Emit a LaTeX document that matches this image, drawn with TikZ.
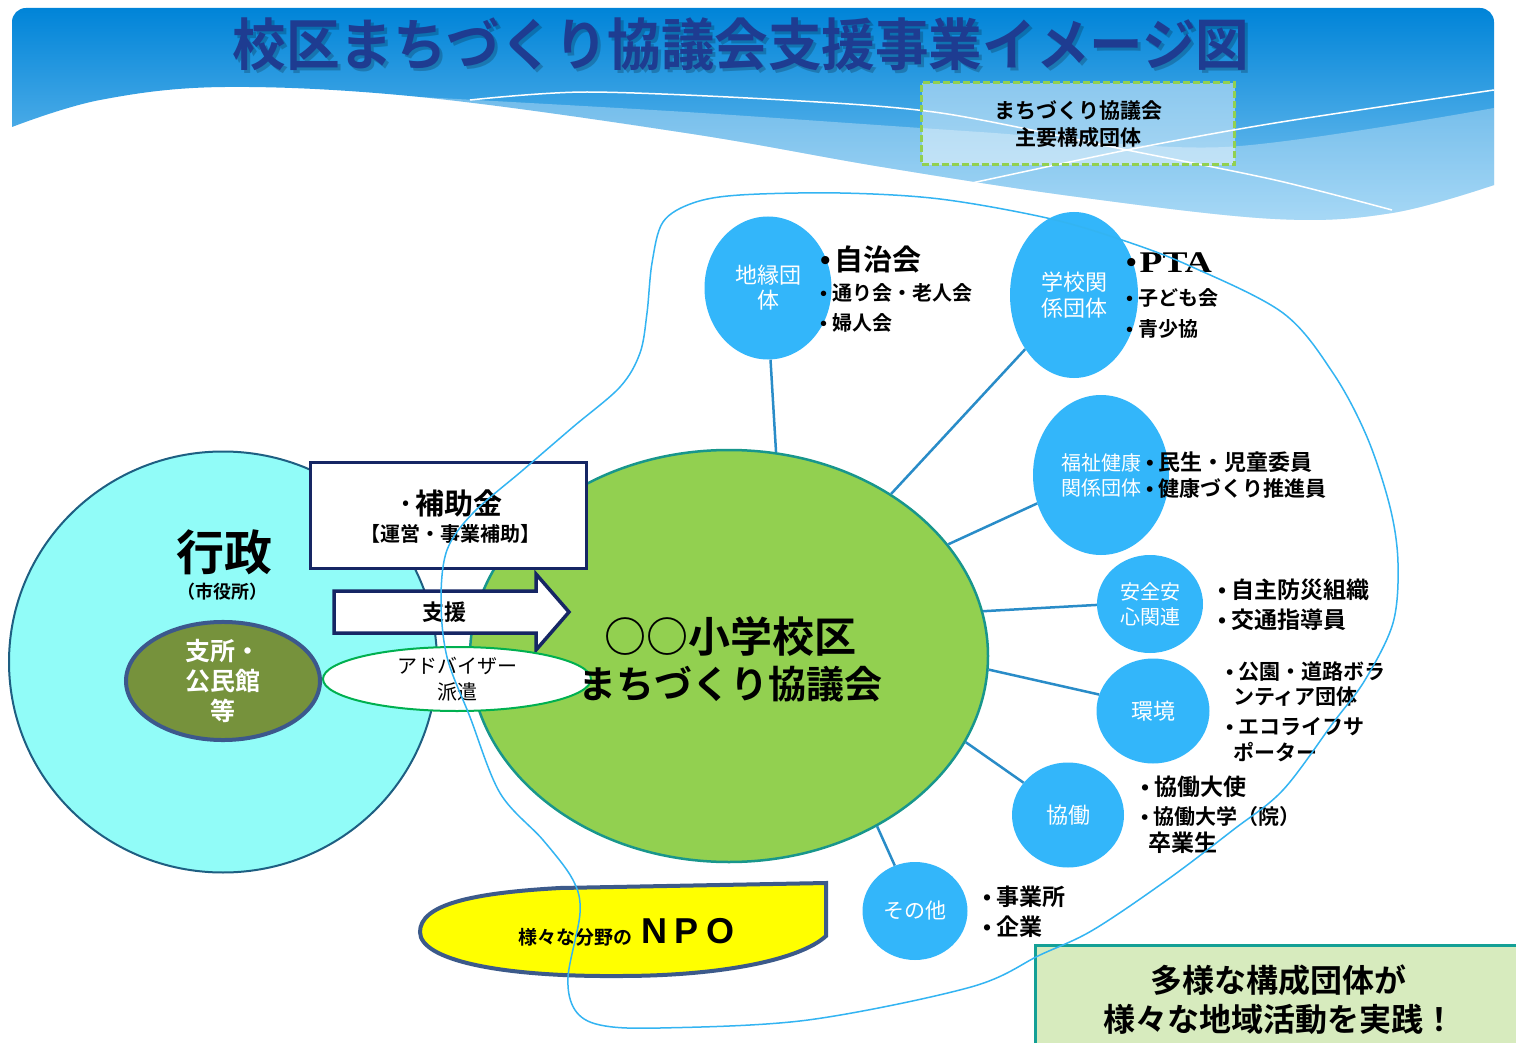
\documentclass[tikz,border=0pt]{standalone}
\usepackage{fontspec}
\usepackage{graphicx}
\setmainfont{Noto Sans CJK JP}[BoldFont={Noto Sans CJK JP Bold}]
\newfontfamily\lat{Liberation Serif}
\newfontfamily\latsans{Liberation Sans}
\usetikzlibrary{shapes.geometric}
\definecolor{circblue}{RGB}{51,182,250}
\definecolor{connblue}{RGB}{41,140,200}
\definecolor{maingreen}{RGB}{146,208,80}
\definecolor{mainbd}{RGB}{24,150,140}
\definecolor{cyanfill}{RGB}{145,252,248}
\definecolor{cyanbd}{RGB}{30,95,130}
\definecolor{olivef}{RGB}{118,146,60}
\definecolor{olivebd}{RGB}{60,88,140}
\definecolor{navyc}{RGB}{22,38,100}
\definecolor{advgreen}{RGB}{0,176,80}
\definecolor{npoyel}{RGB}{255,255,0}
\definecolor{npobd}{RGB}{60,90,138}
\definecolor{boxgreen}{RGB}{215,235,190}
\definecolor{boxteal}{RGB}{20,160,150}
\definecolor{loopc}{RGB}{51,180,242}
\definecolor{dashgreen}{RGB}{146,208,80}
\definecolor{titleblue}{RGB}{30,60,145}
\definecolor{hdrA}{RGB}{0,132,216}
\definecolor{hdrB}{RGB}{130,200,242}
\newcommand\fsz[1]{\fontsize{#1}{#1}\selectfont}
\newcommand\bul{{\lat •}\hspace{5pt}}
\tikzset{
  circ/.style={ellipse, fill=circblue, inner sep=0pt, text=white, align=center},
  conn/.style={draw=connblue, line width=2.5pt},
  item/.style={anchor=west, inner sep=0pt},
  txt/.style={inner sep=0pt},
}
\begin{document}
\begin{tikzpicture}[x=1pt,y=-1pt]
\useasboundingbox (0,0) rectangle (1516,1043);
\fill[white] (0,0) rectangle (1516,1043);
% header
\shade[top color=hdrA, bottom color=hdrB] (12,127) [rounded corners=14]-- (12,8) -- (1494,8) -- (1494,185) [sharp corners]
  -- plot[smooth,tension=0.6] coordinates {(1494,185) (1392,213) (1275,219) (1078,197) (882,167) (686,133) (420,97) (225,87) (100,100) (12,127)} -- cycle;
\fill[white, opacity=0.3] plot[smooth] coordinates {(420,97) (686,112) (980,132) (1225,147) (1494,108)} -- (1494,185)
  -- plot[smooth,tension=0.6] coordinates {(1494,185) (1392,213) (1275,219) (1078,197) (882,167) (686,133) (420,97)} -- cycle;
\draw[white, line width=1.5] plot[smooth] coordinates {(470,100) (587,92) (784,100) (941,113) (1127,150) (1275,180) (1392,210)};
\draw[white, line width=1.5] plot[smooth] coordinates {(935,191) (1127,150) (1275,123) (1494,90)};
% title
\node[txt, font=\bfseries\fsz{52}, text=black, opacity=0.2] (tshadow) at (744,47) {\scalebox{1.03}[1.08]{校区まちづくり協議会支援事業イメージ図}};
\node[txt, font=\bfseries\fsz{52}, text=titleblue] (title) at (741,44) {\scalebox{1.03}[1.08]{校区まちづくり協議会支援事業イメージ図}};
% key box
\node[draw=dashgreen, dash pattern=on 7pt off 3pt, line width=3, fill=white, fill opacity=0.45, text opacity=1,
  minimum width=313, minimum height=82, align=center, font=\bfseries\fontsize{21}{27}\selectfont] (keybox) at (1078,124) {まちづくり協議会\\主要構成団体};
% left big ellipse
\node[ellipse, draw=cyanbd, fill=cyanfill, line width=2, minimum width=428, minimum height=421] (gyosei) at (223,662) {};
\node[txt, font=\bfseries\fsz{48}] (gyoseit) at (224,552) {行政};
\node[txt, font=\bfseries\fsz{18}] (shiyakusho) at (222,592) {（市役所）};
\node[ellipse, draw=olivebd, fill=olivef, line width=4, minimum width=194, minimum height=114, inner sep=0, text=white,
  align=center, font=\bfseries\fontsize{25}{30}\selectfont] (shisho) at (223,681) {支所・\\公民館\\等};
% main ellipse
\node[ellipse, draw=mainbd, fill=maingreen, line width=2.5, minimum width=518, minimum height=412] (main) at (729,656) {};
% subsidy box
\node[draw=navyc, line width=3, fill=white, minimum width=276, minimum height=106] (hojo) at (448,515) {};
\node[txt, font=\bfseries\fsz{29}] (hojot) at (450,503) {·補助金};
\node[txt, font=\bfseries\fsz{20}] (hojos) at (450,534) {【運営・事業補助】};
% support arrow
\draw[navyc, line width=3.5, fill=white, line join=miter] (334,591) -- (536,591) -- (536,574) -- (569,612) -- (536,650) -- (536,633) -- (334,633) -- cycle;
\node[txt, font=\bfseries\fsz{22}] (shien) at (444,612) {支援};
% adviser
\node[ellipse, draw=advgreen, line width=2, fill=white, minimum width=268, minimum height=64, inner sep=0,
  align=center, font=\fontsize{20}{26}\selectfont] (adv) at (457,679) {アドバイザー\\派遣};
% main text
\node[txt, font=\bfseries\fsz{42}] (maint1) at (730,636) {○○小学校区};
\node[txt, font=\bfseries\fsz{38}] (maint2) at (730,684) {まちづくり協議会};
% member circles
\node[circ, minimum width=127, minimum height=143, font=\fontsize{22}{25}\selectfont] (chien) at (768,288) {地縁団\\体};
\node[circ, minimum width=128, minimum height=166, font=\fontsize{22}{26}\selectfont] (gakko) at (1074,295) {学校関\\係団体};
\node[circ, minimum width=136, minimum height=160, font=\fontsize{20}{25}\selectfont] (fukushi) at (1101,475) {福祉健康\\関係団体};
\node[circ, minimum width=106, minimum height=98, font=\fontsize{20}{25}\selectfont] (anzen) at (1150,604) {安全安\\心関連};
\node[circ, minimum width=113, minimum height=105, font=\fsz{22}] (kankyo) at (1153,711) {環境};
\node[circ, minimum width=112, minimum height=105, font=\fsz{22}] (kyodo) at (1068,815) {協働};
\node[circ, minimum width=105, minimum height=98, font=\fsz{21}] (sonota) at (915,911) {その他};
% connectors
\draw[conn] (chien.272) -- (main.77);
\draw[conn] (gakko.228) -- (main.45);
\draw[conn] (fukushi.204) -- (main.27);
\draw[conn] (anzen.181) -- (main.10);
\draw[conn] (kankyo.163) -- (main.-3);
\draw[conn] (kyodo.144) -- (main.-20);
\draw[conn] (sonota.114) -- (main.-49);
% item lists
\node[item, font=\bfseries\fsz{29}] (i1) at (820,259) {{\lat\fsz{30}•}\hspace{4pt}自治会};
\node[item, font=\bfseries\fsz{20}] (i2) at (820,293) {\bul 通り会・老人会};
\node[item, font=\bfseries\fsz{20}] (i3) at (820,323) {\bul 婦人会};
\node[item, font=\bfseries\fsz{20}] (i4) at (1126,263) {{\lat\fsz{30}•}\hspace{3pt}{\lat\bfseries\fsz{30}\scalebox{1.25}[1]{PTA}}};
\node[item, font=\bfseries\fsz{20}] (i5) at (1126,298) {\bul 子ども会};
\node[item, font=\bfseries\fsz{20}] (i6) at (1126,329) {\bul 青少協};
\node[item, font=\bfseries\fsz{22}] (i7) at (1146,462) {\bul 民生・児童委員};
\node[item, font=\bfseries\fsz{21}] (i8) at (1146,489) {\bul 健康づくり推進員};
\node[item, font=\bfseries\fsz{23}] (i9) at (1218,590) {\bul 自主防災組織};
\node[item, font=\bfseries\fsz{23}] (i10) at (1218,620) {\bul 交通指導員};
\node[item, font=\bfseries\fsz{21}] (i11) at (1226,672) {\bul 公園・道路ボラ};
\node[item, font=\bfseries\fsz{21}] (i12) at (1233,697) {ンティア団体};
\node[item, font=\bfseries\fsz{21}] (i13) at (1226,727) {\bul エコライフサ};
\node[item, font=\bfseries\fsz{21}] (i14) at (1233,752) {ポーター};
\node[item, font=\bfseries\fsz{23}] (i15) at (1141,787) {\bul 協働大使};
\node[item, font=\bfseries\fsz{21}] (i16) at (1141,817) {\bul 協働大学（院）};
\node[item, font=\bfseries\fsz{23}] (i17) at (1148,843) {卒業生};
\node[item, font=\bfseries\fsz{23}] (i18) at (983,897) {\bul 事業所};
\node[item, font=\bfseries\fsz{23}] (i19) at (983,927) {\bul 企業};
% NPO
\draw[npobd, line width=4, fill=npoyel] (826,883) -- (826,936) .. controls (800,960) and (720,976) .. (620,976)
  .. controls (500,977) and (420,960) .. (420,932) .. controls (420,905) and (470,893) .. (560,888) -- cycle;
\node[txt, font=\bfseries\fsz{19}] (npo1) at (575,937) {様々な分野の};
\node[txt, font=\latsans\bfseries\fsz{36}] (npo2) at (688,931) {N\hspace{8pt}P\hspace{8pt}O};
% summary box
\node[draw=boxteal, line width=3, fill=boxgreen, minimum width=490, minimum height=130, anchor=north west] (summary) at (1034,944) {};
\node[txt, font=\bfseries\fsz{32}] (sum1) at (1278,980) {多様な構成団体が};
\node[txt, font=\bfseries\fsz{32}] (sum2) at (1279,1019) {様々な地域活動を実践！};
% enclosing loop
\draw[loopc, line width=1.5] plot[smooth cycle, tension=0.55] coordinates {
 (663,222) (693,203) (740,195) (840,193) (940,199) (1047,218) (1122,240) (1190,266) (1283,313) (1333,373)
 (1367,437) (1390,507) (1398,563) (1393,623) (1365,680) (1333,723) (1283,790) (1233,830) (1167,880) (1093,930)
 (1040,955) (971,987) (808,1020) (660,1028) (600,1025) (575,1010) (568,977) (580,913) (573,880) (543,840)
 (500,793) (470,717) (447,657) (441,600) (447,550) (473,513) (523,470) (573,427) (620,387) (640,353) (647,313) (652,263)};
\end{tikzpicture}
\end{document}
